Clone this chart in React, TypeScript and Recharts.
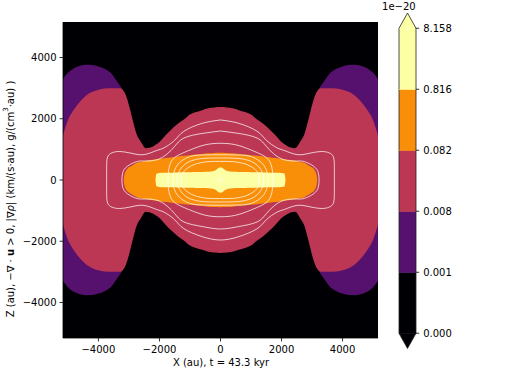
import React from 'react';
import { ComposedChart, BarChart, Area, Bar, Scatter, XAxis, YAxis, CartesianGrid } from 'recharts';

const FONT = 'DejaVu Sans, sans-serif';
const LIM = 5160;
const BG = '#000004';
const PURPLE = '#56106e';
const RED = '#bb3754';
const ORANGE = '#f98e09';
const YELLOW = '#fcffa4';
const CONTOUR = 'rgba(255,255,255,0.72)';

const xHalf = [0, 200, 400, 600, 800, 1000, 1200, 1400, 1600, 1800, 2000, 2100, 2130, 2150, 2300, 2450, 2600, 2750, 2850, 2950, 3050, 3150, 3170, 3250, 3400, 3600, 3800, 4000, 4200, 4400, 4600, 4800, 5000, 5160];
const redHalf = [2380, 2370, 2340, 2280, 2220, 2140, 1975, 1835, 1660, 1460, 1240, 1170, 1150, 1135, 1060, 1040, 1230, 1500, 1850, 2250, 2620, 2870, 2900, 2990, 3000, 3000, 2990, 2950, 2880, 2760, 2560, 2300, 1950, 1460];
const purpleHalf = [null, null, null, null, null, null, null, null, null, null, null, null, null, null, null, null, null, null, null, null, null, null, null, 3020, 3230, 3500, 3630, 3710, 3755, 3760, 3730, 3650, 3500, 3300];
const orangeHalf = [890, 885, 870, 850, 830, 810, 790, 770, 740, 715, 690, 678, 674, 670, 650, 630, 600, 560, 500, 440, 370, 160, 0, null, null, null, null, null, null, null, null, null, null, null];
const yellowHalf = [420, 300, 270, 265, 260, 255, 250, 245, 240, 235, 225, 205, 0, null, null, null, null, null, null, null, null, null, null, null, null, null, null, null, null, null, null, null, null, null];

// white contour lines, upper-right quarter from the top point to the right-most point
const contour1 = [[0, 1960], [600, 1850], [1200, 1590], [1500, 1300], [1850, 1050], [2100, 960], [2500, 830], [2900, 870], [3300, 930], [3550, 890], [3700, 750], [3730, 400], [3730, 0]];
const contour2 = [[0, 1600], [600, 1520], [1200, 1370], [1500, 1100], [1750, 850], [2085, 660], [2500, 620], [2750, 600], [3050, 450], [3200, 250], [3230, 0]];
const contour3 = [[0, 1200], [500, 1150], [1000, 980], [1300, 850], [1540, 700], [1680, 420], [1720, 0]];
const contour4 = [[0, 825], [500, 820], [900, 790], [1150, 700], [1350, 560], [1500, 330], [1560, 0]];
const contour5 = [[0, 718], [500, 710], [850, 660], [1100, 560], [1280, 400], [1390, 200], [1420, 0]];
const contour6 = [[0, 607], [400, 600], [750, 540], [1000, 440], [1180, 300], [1260, 150], [1280, 0]];
const contour7 = [[0, 70], [50, 50], [70, 0]];

const xTicks = [-4000, -2000, 0, 2000, 4000];
const yTicks = [-4000, -2000, 0, 2000, 4000];

const cbLabels = ['0.000', '0.001', '0.008', '0.082', '0.816', '8.158'];
const cbColors = [BG, PURPLE, RED, ORANGE, YELLOW];
const cbSpan = [1, 1, 1, 1, 1];
const cbExtend = 0.25;

const range = (v: number | null) => (v == null ? null : [-v, v]);

const rows = [
  ...xHalf.slice(1).map((_, k) => xHalf.length - 1 - k).map((i) => ({ x: -xHalf[i], i })),
  ...xHalf.map((x, i) => ({ x, i })),
].map(({ x, i }) => ({
  x,
  red: range(redHalf[i]),
  purple: range(purpleHalf[i]),
  orange: range(orangeHalf[i]),
  yellow: range(yellowHalf[i]),
}));

function loop(q: number[][]) {
  const n = q.length;
  const pts: { x: number; z: number }[] = [];
  q.forEach(([x, z]) => pts.push({ x, z }));
  for (let k = n - 2; k >= 0; k--) pts.push({ x: q[k][0], z: -q[k][1] });
  for (let k = 1; k < n; k++) pts.push({ x: -q[k][0], z: -q[k][1] });
  for (let k = n - 2; k >= 0; k--) pts.push({ x: -q[k][0], z: q[k][1] });
  return pts;
}

const contours = [contour1, contour2, contour3, contour4, contour5, contour6, contour7].map(loop);

const fmt = (v: number) => (v < 0 ? '\u2212' + Math.abs(v) : String(v));
const tickStyle = { fill: '#000', fontSize: 10, fontFamily: FONT };

const cbRow: Record<string, number | string> = { name: 'cb', lo: cbExtend, hi: cbExtend };
cbSpan.forEach((s, i) => (cbRow['s' + i] = s));
const cbTicks = cbLabels.map((_, i) => cbExtend + i);

const EDGE = '#222';

function segShape(color: string) {
  return (p: any) => {
    const y = Math.min(p.y, p.y + p.height);
    const h = Math.abs(p.height);
    return (
      <g>
        <rect x={p.x} y={y} width={p.width} height={h + 0.5} fill={color} />
        <line x1={p.x} x2={p.x} y1={y} y2={y + h} stroke={EDGE} strokeWidth={0.8} />
        <line x1={p.x + p.width} x2={p.x + p.width} y1={y} y2={y + h} stroke={EDGE} strokeWidth={0.8} />
      </g>
    );
  };
}

function triShape(color: string, up: boolean) {
  return (p: any) => {
    const y = Math.min(p.y, p.y + p.height);
    const h = Math.abs(p.height);
    const { x, width: w } = p;
    const pts = up
      ? [[x, y + h], [x + w / 2, y], [x + w, y + h]]
      : [[x, y], [x + w / 2, y + h], [x + w, y]];
    const s = pts.map((q) => q.join(',')).join(' ');
    return (
      <g>
        <polygon points={s} fill={color} />
        <polyline points={s} fill="none" stroke={EDGE} strokeWidth={0.8} />
      </g>
    );
  };
}

export default function App() {
  return (
    <div style={{ position: 'absolute', left: 0, top: 0, width: 509, height: 368, background: '#fff', overflow: 'hidden' }}>
      <div style={{ position: 'absolute', left: 0, top: 0 }}>
        <ComposedChart width={509} height={368} data={rows} margin={{ top: 22, right: 131, bottom: 0, left: 0 }}>
          <CartesianGrid horizontal={false} vertical={false} fill={BG} fillOpacity={1} />
          <XAxis
            dataKey="x"
            type="number"
            domain={[-LIM, LIM]}
            allowDataOverflow
            ticks={xTicks}
            tickFormatter={fmt}
            height={30}
            tickSize={3.5}
            tickMargin={4}
            tick={tickStyle}
            tickLine={{ stroke: '#000', strokeWidth: 0.8 }}
            axisLine={{ stroke: '#000', strokeWidth: 0.8 }}
          />
          <XAxis xAxisId="top" orientation="top" dataKey="x" type="number" domain={[-LIM, LIM]} allowDataOverflow height={0} tick={false} tickLine={false} axisLine={{ stroke: '#000', strokeWidth: 0.8 }} />
          <YAxis
            type="number"
            domain={[-LIM, LIM]}
            allowDataOverflow
            ticks={yTicks}
            tickFormatter={fmt}
            width={63}
            tickSize={3.5}
            tickMargin={3}
            tick={tickStyle}
            tickLine={{ stroke: '#000', strokeWidth: 0.8 }}
            axisLine={{ stroke: '#000', strokeWidth: 0.8 }}
          />
          <YAxis yAxisId="right" orientation="right" type="number" domain={[-LIM, LIM]} allowDataOverflow width={0} tick={false} tickLine={false} axisLine={{ stroke: '#000', strokeWidth: 0.8 }} />
          <Area dataKey="purple" type="monotone" fill={PURPLE} fillOpacity={1} stroke="none" dot={false} activeDot={false} isAnimationActive={false} />
          <Area dataKey="red" type="monotone" fill={RED} fillOpacity={1} stroke="none" dot={false} activeDot={false} isAnimationActive={false} />
          <Area dataKey="orange" type="monotone" fill={ORANGE} fillOpacity={1} stroke="none" dot={false} activeDot={false} isAnimationActive={false} />
          <Area dataKey="yellow" type="monotone" fill={YELLOW} fillOpacity={1} stroke="none" dot={false} activeDot={false} isAnimationActive={false} />
          {contours.map((c, i) => (
            <Scatter
              key={i}
              data={c}
              dataKey="z"
              fill={CONTOUR}
              line={{ stroke: CONTOUR, strokeWidth: 1 }}
              lineJointType="natural"
              shape={() => <g />}
              isAnimationActive={false}
            />
          ))}
        </ComposedChart>
      </div>
      <div style={{ position: 'absolute', left: 380, top: 0 }}>
        <BarChart width={129} height={368} data={[cbRow]} margin={{ top: 13, right: 33.3, bottom: 19.5, left: 19 }} barCategoryGap={0} barGap={0}>
          <XAxis dataKey="name" type="category" hide />
          <YAxis
            orientation="right"
            type="number"
            domain={[0, cbSpan.length + 2 * cbExtend]}
            ticks={cbTicks}
            tickFormatter={(v: number) => cbLabels[Math.round(v - cbExtend)]}
            width={60}
            tickSize={3.5}
            tickMargin={4}
            tick={tickStyle}
            tickLine={{ stroke: '#000', strokeWidth: 0.8 }}
            axisLine={false}
          />
          <Bar dataKey="lo" stackId="c" shape={triShape(cbColors[0], false)} isAnimationActive={false} />
          {cbSpan.map((_, i) => (
            <Bar key={i} dataKey={'s' + i} stackId="c" shape={segShape(cbColors[i])} isAnimationActive={false} />
          ))}
          <Bar dataKey="hi" stackId="c" shape={triShape(cbColors[cbColors.length - 1], true)} isAnimationActive={false} />
        </BarChart>
      </div>
      <svg width={509} height={368} style={{ position: 'absolute', left: 0, top: 0, pointerEvents: 'none' }} fontFamily={FONT} fontSize={10}>
        <text x={415.7} y={10} textAnchor="end" fill="#000">1e{'\u2212'}20</text>
        <text x={221} y={365.5} textAnchor="middle" fill="#000">X (au), t = 43.3 kyr</text>
        <text x={10} y={199} transform="rotate(-90, 10, 199)" textAnchor="middle" dominantBaseline="central" fill="#000">
          Z (au), {'\u2212\u2207 \u00b7 '}<tspan fontWeight="bold">u</tspan>{' > 0, |\u2207'}<tspan fontStyle="italic">{'\u03c1'}</tspan>{'| (km/(s\u00b7au), g/(cm'}
          <tspan dy={-4} fontSize={7}>3</tspan>
          <tspan dy={4}>{'\u00b7au) )'}</tspan>
        </text>
      </svg>
    </div>
  );
}
